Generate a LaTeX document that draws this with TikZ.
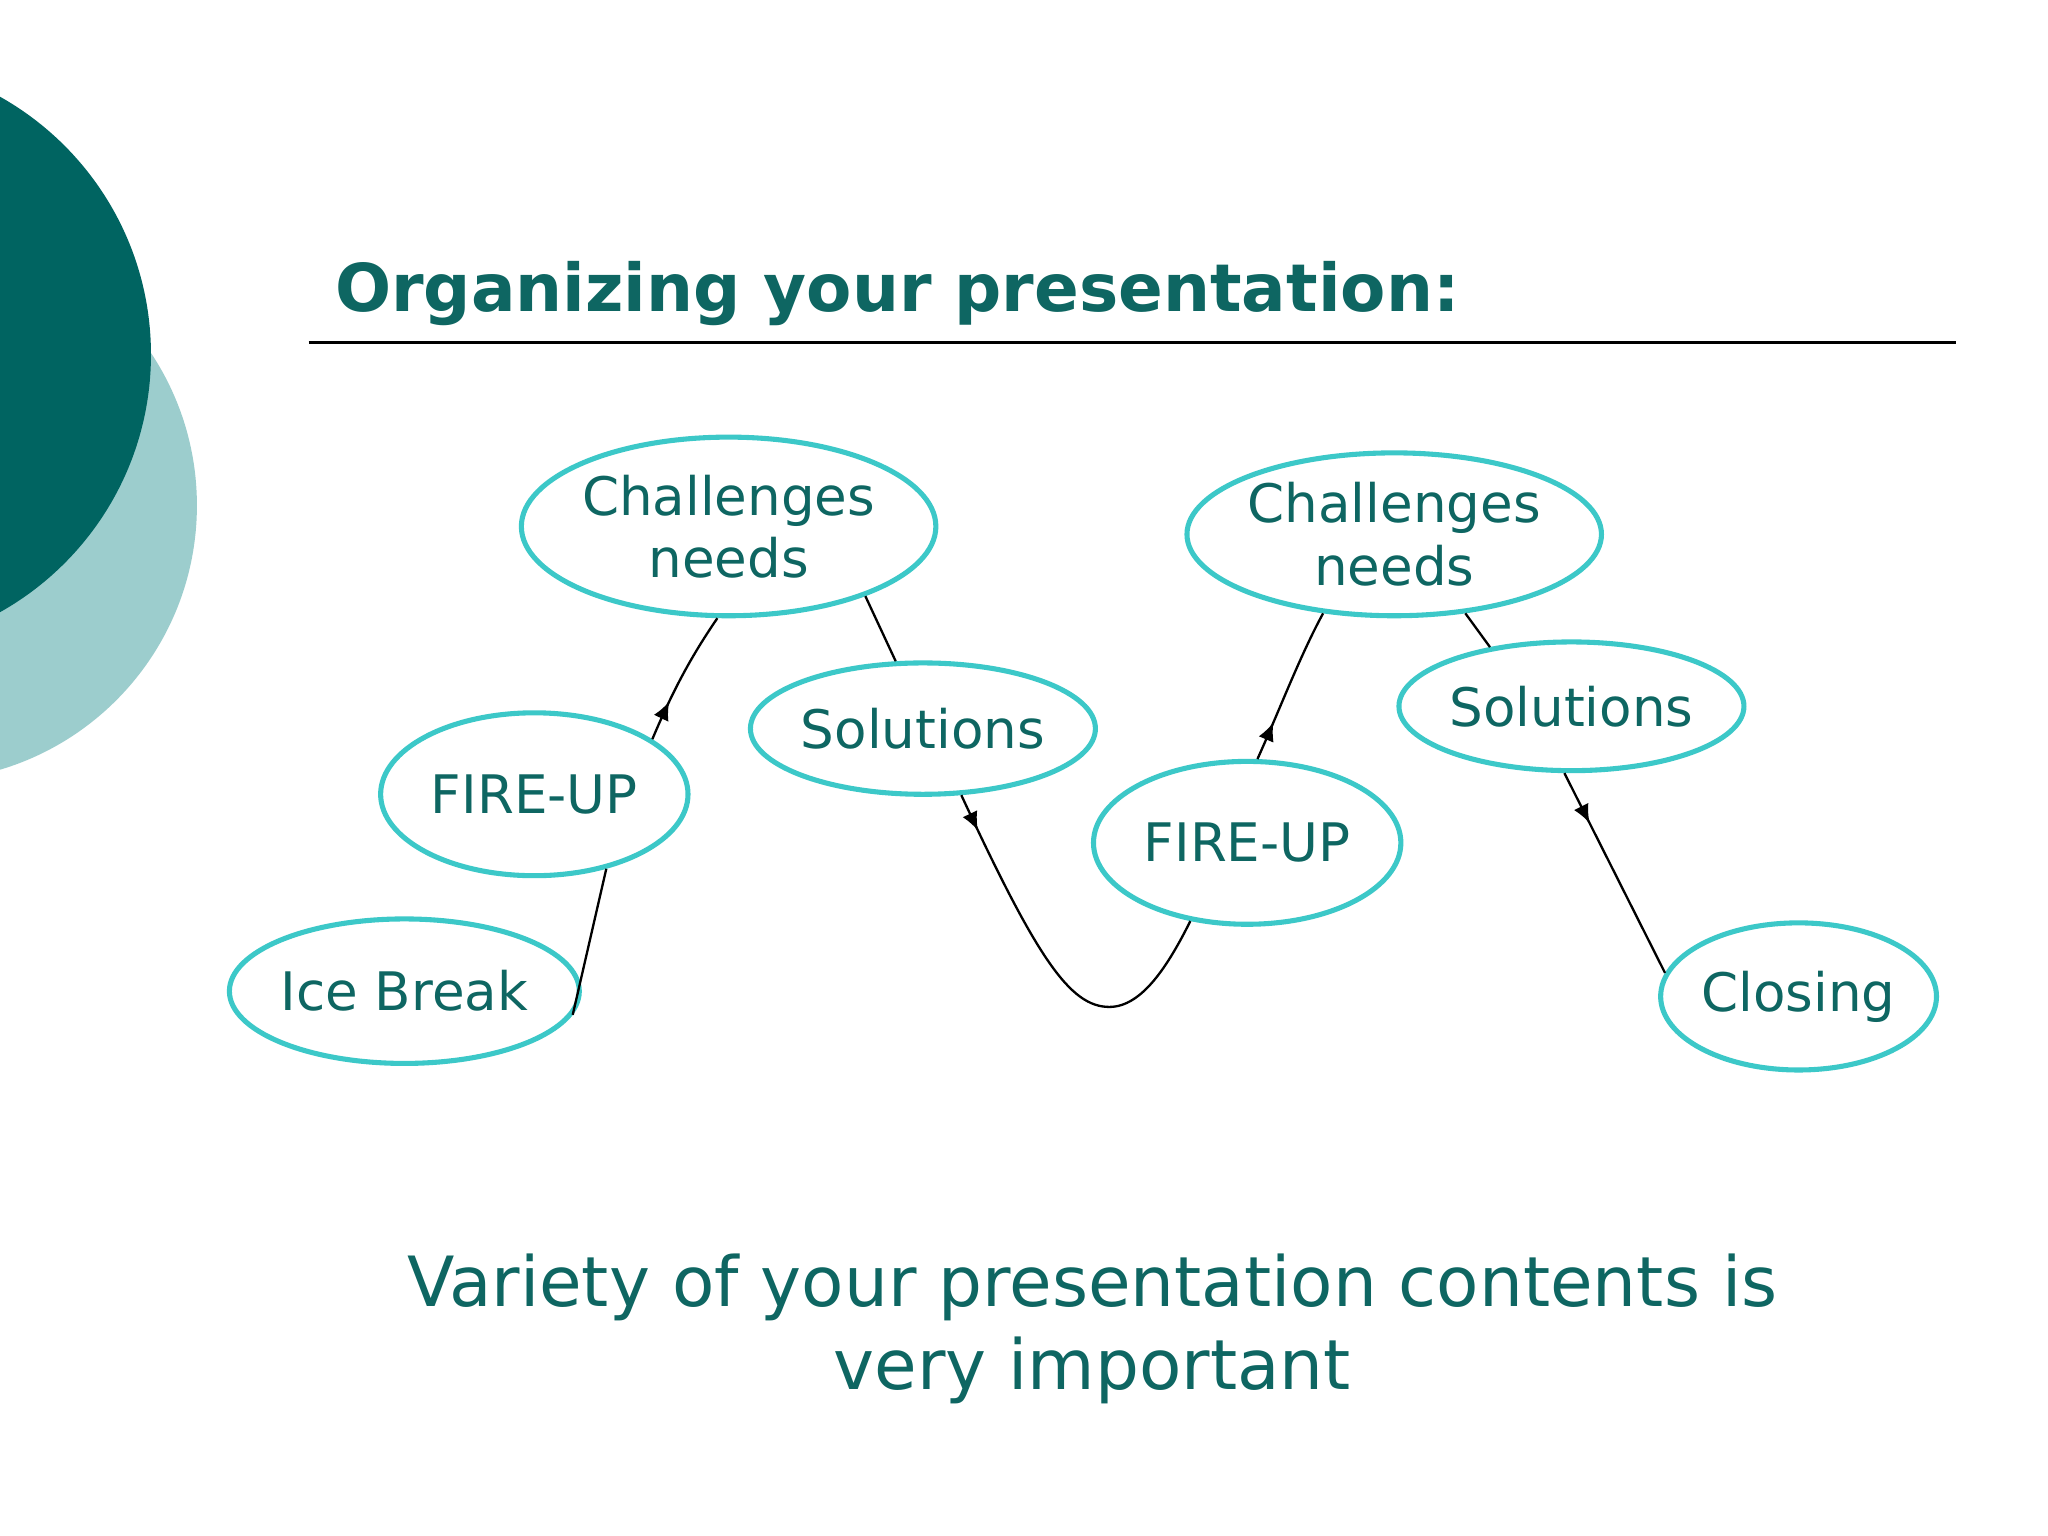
\documentclass[tikz,border=0pt]{standalone}
\usepackage{fontspec}
\setmainfont{DejaVu Sans}
\usetikzlibrary{shapes.geometric,decorations.markings,arrows.meta}
\definecolor{teal1}{HTML}{006461}
\definecolor{teal2}{HTML}{9CCDCD}
\definecolor{txt}{HTML}{0E6662}
\definecolor{ring}{HTML}{3CC8C8}
\tikzset{
 bub/.style={ellipse,draw=ring,line width=1.1pt,inner sep=0pt,text=txt,align=center,
   font=\fontsize{11.5}{13.5}\selectfont},
 con/.style={draw=black,line width=0.5pt},
 marr/.style={postaction={decorate},decoration={markings,mark=at position #1 with {\arrow{Latex[length=4pt,width=3.5pt]}}}}
}
\begin{document}
\begin{tikzpicture}[x=0.01cm,y=-0.01cm]
\useasboundingbox (0,0) rectangle (1560,1170);
\fill[white] (0,0) rectangle (1560,1170);
\begin{scope}
\clip (0,0) rectangle (1560,1170);
\fill[teal2] (-60,385) circle (210);
\fill[teal1] (-110,270) circle (225);
\end{scope}
\node[anchor=base west,text=txt,font=\fontsize{14.3}{17}\selectfont\bfseries] (title) at (243,237) {Organizing your presentation:};
\draw[line width=0.6pt] (235,261) -- (1490,261);
\node[bub,minimum width=2.36cm,minimum height=1.10cm] (ice) at (308,755) {Ice Break};
\node[bub,minimum width=2.34cm,minimum height=1.24cm] (fu1) at (407,605) {FIRE-UP};
\node[bub,minimum width=2.60cm,minimum height=1.36cm] (ch1) at (555,401) {Challenges\\needs};
\node[bub,minimum width=2.10cm,minimum height=1.00cm] (so1) at (703,555) {Solutions};
\node[bub,minimum width=2.34cm,minimum height=1.24cm] (fu2) at (950,642) {FIRE-UP};
\node[bub,minimum width=2.60cm,minimum height=1.24cm] (ch2) at (1062,407) {Challenges\\needs};
\node[bub,minimum width=2.10cm,minimum height=0.98cm] (so2) at (1197,538) {Solutions};
\node[bub,minimum width=2.10cm,minimum height=1.12cm] (cl) at (1370,759) {Closing};
\coordinate (low) at (845,767);
\draw[con] (ice.-8) -- (fu1.-46);
\draw[con,marr=0.3] (fu1.25) .. controls (515,520) and (530,495) .. (ch1.-97);
\draw[con] (ch1.-27) -- (so1.112);
\draw[con,marr=0.1] (so1.-60) .. controls (790,730) and (815,767) .. (low) .. controls (870,767) and (890,735) .. (fu2.-126);
\draw[con,marr=0.25] (fu2.83) .. controls (975,540) and (990,500) .. (ch2.-132);
\draw[con] (ch2.-48) -- (so2.144);
\draw[con,marr=0.25] (so2.-96) -- (cl.170);
\node[text=txt,align=center,font=\fontsize{15}{18}\selectfont] (foot) at (832,1012) {Variety of your presentation contents is\\very important};
\end{tikzpicture}
\end{document}
